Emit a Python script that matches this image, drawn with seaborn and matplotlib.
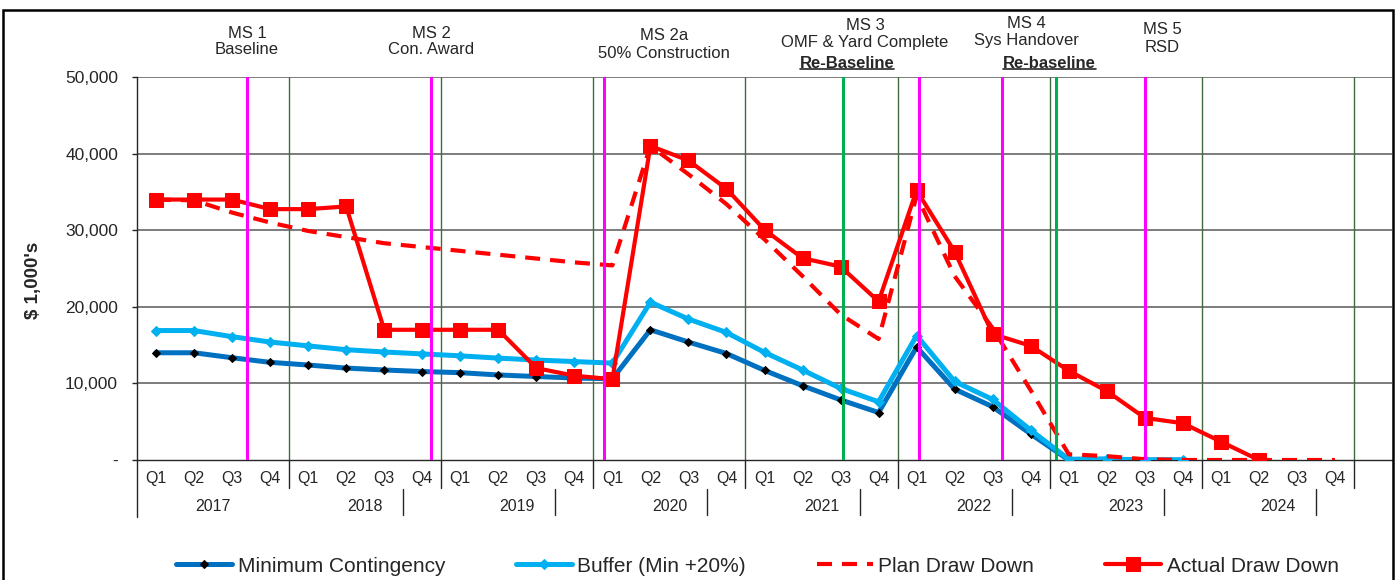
import numpy as np
import pandas as pd
import matplotlib
matplotlib.use("Agg")
import matplotlib.pyplot as plt
import matplotlib.transforms as mtransforms
from matplotlib.lines import Line2D
from matplotlib.patches import Rectangle
from matplotlib.ticker import FuncFormatter
import seaborn as sns

# data ($ 1,000's per quarter, 2017 Q1 .. 2024 Q4)
years = [2017, 2018, 2019, 2020, 2021, 2022, 2023, 2024]
quarter_names = ["Q1", "Q2", "Q3", "Q4"]

min_contingency = [14000, 14000, 13350, 12750,
                   12400, 12000, 11750, 11550,
                   11400, 11100, 10900, 10700,
                   10600, 17000, 15400, 13900,
                   11700, 9700, 7850, 6200,
                   14750, 9250, 6950, 3400,
                   0, 0, 0, 0]
buffer_min20 = [16900, 16900, 16100, 15400,
                14900, 14400, 14100, 13850,
                13600, 13300, 13050, 12850,
                12650, 20600, 18400, 16650,
                14050, 11750, 9350, 7600,
                16250, 10250, 7900, 3900,
                100, 150, 0, 0]
plan_draw_down = [34000, 33900, 32300, 31000,
                  29900, 29100, 28300, 27800,
                  27300, 26800, 26300, 25800,
                  25400, 41000, 37300, 33400,
                  28800, 24000, 19000, 15800,
                  34500, 24000, 17200, 9100,
                  750, 500, 100, 0,
                  0, 0, 0, 0]
actual_draw_down = [34000, 34000, 34000, 32750,
                    32750, 33100, 17000, 17000,
                    17000, 17000, 12000, 11000,
                    10550, 41000, 39100, 35400,
                    30050, 26350, 25250, 20700,
                    35200, 27200, 16450, 14900,
                    11650, 9000, 5500, 4800,
                    2400, 0]

# milestone markers (position on the quarter axis)
milestone_x = [2.39, 7.23, 11.78, 20.06, 22.25, 26.01]
rebaseline_x = [18.06, 23.66]

sns.set_style("white")
plt.rcParams["font.family"] = ["Liberation Sans", "DejaVu Sans"]

n_q = len(years) * 4
x_idx = np.arange(n_q)


def series_frame(values):
    return pd.DataFrame({"x": x_idx[:len(values)], "y": values}).dropna()


fig = plt.figure(figsize=(14, 5.8), dpi=100)
ax = fig.add_axes([137 / 1400, 120 / 580, (1392 - 137) / 1400, 383 / 580])
ax.set_xlim(-0.5, n_q + 0.5)
ax.set_ylim(0, 50000)

# grid
for v in range(10000, 50001, 10000):
    ax.axhline(v, color="#595959", lw=1.1, zorder=1)
xa = mtransforms.blended_transform_factory(ax.transData, ax.transAxes)
for k in range(1, len(years) + 1):
    xv = 4 * k - 0.5
    ax.axvline(xv, color="#3F6B3F", lw=1, zorder=1)
    ax.plot([xv, xv], [0, -0.073], color="#262626", lw=1, transform=xa, clip_on=False)
ax.plot([-0.5, -0.5], [0, -0.149], color="#262626", lw=1, transform=xa, clip_on=False)
for k in range(1, len(years)):
    xv = 4 * k + 2.5
    ax.plot([xv, xv], [-0.075, -0.144], color="#262626", lw=1, transform=xa, clip_on=False)

# series
sns.lineplot(data=series_frame(min_contingency), x="x", y="y", ax=ax, estimator=None,
             color="#0070C0", lw=3.6, marker="D", markersize=3.8,
             markerfacecolor="black", markeredgecolor="black",
             label="Minimum Contingency", zorder=3)
sns.lineplot(data=series_frame(buffer_min20), x="x", y="y", ax=ax, estimator=None,
             color="#00B0F0", lw=3.6, marker="D", markersize=5,
             markerfacecolor="#00B0F0", markeredgecolor="#00B0F0",
             label="Buffer (Min +20%)", zorder=3)
sns.lineplot(data=series_frame(plan_draw_down), x="x", y="y", ax=ax, estimator=None,
             color="#FF0000", lw=3, linestyle=(0, (3.6, 2.4)),
             label="Plan Draw Down", zorder=3)
sns.lineplot(data=series_frame(actual_draw_down), x="x", y="y", ax=ax, estimator=None,
             color="#FF0000", lw=3, marker="s", markersize=10.5,
             markerfacecolor="#FF0000", markeredgecolor="#FF0000",
             label="Actual Draw Down", zorder=4)

# milestone lines
for xv in milestone_x:
    ax.axvline(xv, color="#FF00FF", lw=2.2, zorder=5)
for xv in rebaseline_x:
    ax.axvline(xv, color="#00B050", lw=2.2, zorder=5)

# axes styling
ax.set_xticks([])
ax.set_yticks(range(0, 50001, 10000))
ax.yaxis.set_major_formatter(FuncFormatter(lambda v, p: "-" if v == 0 else f"{v:,.0f}"))
ax.tick_params(axis="y", direction="out", length=3.6, width=1, pad=10,
               labelsize=12.5, colors="#262626", left=True)
for side in ["top", "right"]:
    ax.spines[side].set_visible(False)
for side in ["left", "bottom"]:
    ax.spines[side].set_color("#262626")
    ax.spines[side].set_linewidth(1)
ax.set_xlabel("")
ax.set_ylabel(r"\$ 1,000's", fontsize=13.5, fontweight="bold", color="#262626")
ax.yaxis.set_label_coords(-0.076, 0.47)

# quarter / year labels
for i in range(n_q):
    ax.text(i, -0.047, quarter_names[i % 4], transform=xa, ha="center", va="center",
            fontsize=11.5, color="#262626")
for k, yr in enumerate(years):
    ax.text(4 * k + 1.5, -0.122, str(yr), transform=xa, ha="center", va="center",
            fontsize=11.5, color="#262626")

# milestone labels
xf = mtransforms.blended_transform_factory(ax.transData, fig.transFigure)
ms_labels = [
    (2.39, 33, "MS 1"), (2.39, 50, "Baseline"),
    (7.23, 33, "MS 2"), (7.23, 50, "Con. Award"),
    (13.36, 36, "MS 2a"), (13.36, 53, "50% Construction"),
    (18.64, 25, "MS 3"), (18.64, 42, "OMF & Yard Complete"),
    (22.88, 23, "MS 4"), (22.88, 40, "Sys Handover"),
    (26.45, 30, "MS 5"), (26.45, 47, "RSD"),
]
for xv, ypx, txt in ms_labels:
    ax.text(xv, 1 - ypx / 580, txt, transform=xf, ha="center", va="center",
            fontsize=12, color="#262626")
rb_texts = []
for xv, txt in [(18.17, "Re-Baseline"), (23.5, "Re-baseline")]:
    rb_texts.append(ax.text(xv, 1 - 63 / 580, txt, transform=xf, ha="center", va="center",
                            fontsize=12, fontweight="bold", color="#262626"))

# legend
if ax.get_legend() is not None:
    ax.get_legend().remove()
handles, labels = ax.get_legend_handles_labels()
fig.legend(handles, labels, loc="center", bbox_to_anchor=(0.541, 14 / 580), ncol=4,
           frameon=False, fontsize=15, handlelength=2.7, handletextpad=0.25,
           columnspacing=3.4, labelcolor="#262626")

# underline the re-baseline notes
fig.canvas.draw()
for t in rb_texts:
    bb = t.get_window_extent()
    fig.add_artist(Line2D([bb.x0, bb.x1], [bb.y0 + 2, bb.y0 + 2], color="#262626",
                          lw=1.2, transform=mtransforms.IdentityTransform()))

# outer frame
fig.add_artist(Rectangle((3 / 1400, -0.05), 1390 / 1400, 1 - 10 / 580 + 0.05, fill=False,
                         lw=1.8, ec="black", transform=fig.transFigure))

fig.savefig("out.png", dpi=100)
